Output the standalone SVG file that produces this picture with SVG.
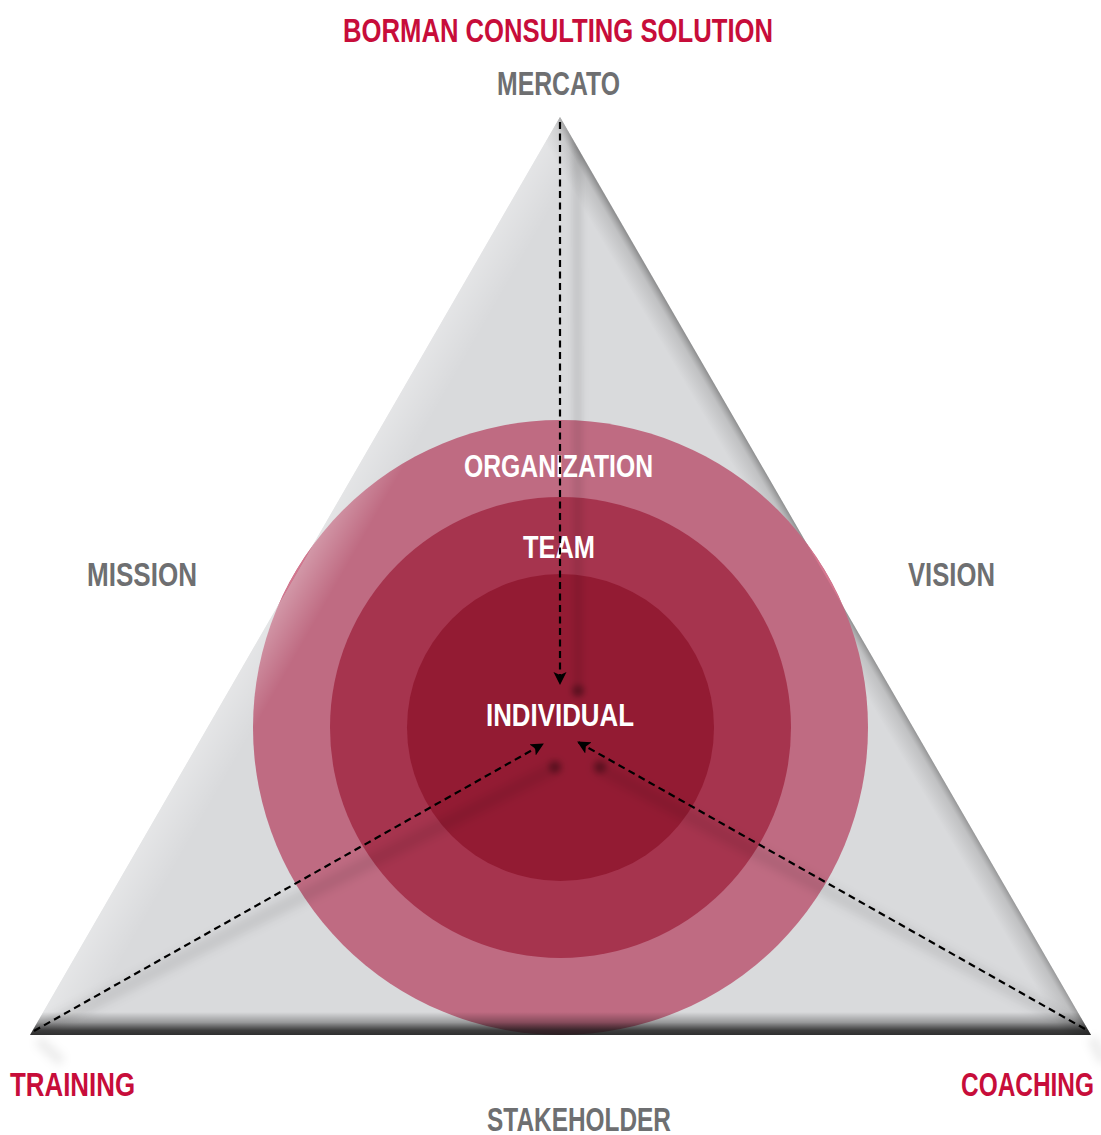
<svg xmlns="http://www.w3.org/2000/svg" width="1101" height="1135" viewBox="0 0 1101 1135">
  <style>
    .lbl { font-family: "Liberation Sans Narrow", "Liberation Sans", Arial, sans-serif; font-weight: bold; font-size: 33px; }
    .red { fill: #C70D3A; }
    .gray { fill: #6E6F71; }
    .white { fill: #FFFFFF; font-size: 31px; }
    .dash { fill: none; stroke: #000; stroke-width: 2.2; stroke-dasharray: 7 4.5; }
    .ridge { fill: none; stroke: #000; stroke-linecap: round; }
  </style>
  <defs>
    <clipPath id="triClip">
      <polygon points="560,117 30,1035 1091,1035"/>
    </clipPath>
    <mask id="outsideTri" maskUnits="userSpaceOnUse" x="0" y="0" width="1101" height="1135">
      <rect x="0" y="0" width="1101" height="1135" fill="#fff"/>
      <polygon points="560,117 30,1035 1091,1035" fill="#000"/>
    </mask>
    <linearGradient id="leftLight" gradientUnits="userSpaceOnUse" x1="295" y1="576" x2="330" y2="596">
      <stop offset="0" stop-color="#fff" stop-opacity="0.3"/>
      <stop offset="1" stop-color="#fff" stop-opacity="0"/>
    </linearGradient>
    <linearGradient id="rightDark" gradientUnits="userSpaceOnUse" x1="825.5" y1="576" x2="804" y2="588.5">
      <stop offset="0" stop-color="#555" stop-opacity="0.55"/>
      <stop offset="0.3" stop-color="#777" stop-opacity="0.25"/>
      <stop offset="1" stop-color="#777" stop-opacity="0"/>
    </linearGradient>
    <linearGradient id="bottomBand" gradientUnits="userSpaceOnUse" x1="0" y1="1012" x2="0" y2="1035">
      <stop offset="0" stop-color="#000" stop-opacity="0"/>
      <stop offset="0.45" stop-color="#000" stop-opacity="0.3"/>
      <stop offset="0.8" stop-color="#111" stop-opacity="0.78"/>
      <stop offset="1" stop-color="#111" stop-opacity="0.85"/>
    </linearGradient>
    <filter id="blur3" filterUnits="userSpaceOnUse" x="0" y="0" width="1101" height="1135">
      <feGaussianBlur stdDeviation="3"/>
    </filter>
    <filter id="blur5" filterUnits="userSpaceOnUse" x="0" y="0" width="1101" height="1135">
      <feGaussianBlur stdDeviation="5"/>
    </filter>
    <marker id="arrow" markerUnits="userSpaceOnUse" markerWidth="14" markerHeight="14" refX="12" refY="6.5" orient="auto">
      <path d="M0,0 L13,6.5 L0,13 L3,6.5 z" fill="#000"/>
    </marker>
  </defs>

  <rect x="0" y="0" width="1101" height="1135" fill="#FFFFFF"/>

  <!-- Pyramid base -->
  <g id="pyramid">
    <line x1="38" y1="1040" x2="62" y2="1062" stroke="#000" stroke-opacity="0.08" stroke-width="10" filter="url(#blur5)"/>
    <line x1="1092" y1="1038" x2="1104" y2="1062" stroke="#000" stroke-opacity="0.08" stroke-width="10" filter="url(#blur5)"/>
    <polygon points="560,117 30,1035 1091,1035" fill="#D9DADC"/>
    <polygon points="560,117 30,1035 1091,1035" fill="url(#rightDark)"/>
  </g>

  <!-- Circles -->
  <g id="organization">
    <circle cx="560.5" cy="727.5" r="307.5" fill="#BF6B82"/>
    <circle cx="560.5" cy="727.5" r="307.5" fill="#D4778F" mask="url(#outsideTri)"/>
  </g>
  <g id="team">
    <circle cx="560.5" cy="727.5" r="230.5" fill="#A6344E"/>
  </g>
  <g id="individual">
    <circle cx="560.5" cy="727.5" r="153.5" fill="#931B33"/>
  </g>

  <!-- Pyramid shading -->
  <g id="shading" clip-path="url(#triClip)">
    <polygon points="560,117 30,1035 1091,1035" fill="url(#leftLight)"/>
    <line class="ridge" x1="577" y1="118" x2="578" y2="690" stroke-opacity="0.09" stroke-width="10" filter="url(#blur3)"/>
    <line class="ridge" x1="40" y1="1030" x2="554" y2="768" stroke-opacity="0.09" stroke-width="14" filter="url(#blur5)"/>
    <line class="ridge" x1="600" y1="768" x2="1085" y2="1030" stroke-opacity="0.09" stroke-width="14" filter="url(#blur5)"/>
    <circle cx="578" cy="691" r="6" fill="#000" fill-opacity="0.35" filter="url(#blur3)"/>
    <circle cx="555" cy="767" r="6" fill="#000" fill-opacity="0.35" filter="url(#blur3)"/>
    <circle cx="600" cy="767" r="6" fill="#000" fill-opacity="0.35" filter="url(#blur3)"/>
    <rect x="0" y="1010" width="1101" height="30" fill="url(#bottomBand)"/>
  </g>

  <!-- Labels -->
  <g id="title"><text class="lbl red" x="343" y="42" textLength="430" lengthAdjust="spacingAndGlyphs">BORMAN CONSULTING SOLUTION</text></g>
  <g id="mercato"><text class="lbl gray" x="497" y="95" textLength="123" lengthAdjust="spacingAndGlyphs">MERCATO</text></g>
  <g id="mission"><text class="lbl gray" x="87" y="586" textLength="110" lengthAdjust="spacingAndGlyphs">MISSION</text></g>
  <g id="vision"><text class="lbl gray" x="908" y="586" textLength="87" lengthAdjust="spacingAndGlyphs">VISION</text></g>
  <g id="training"><text class="lbl red" x="10" y="1096" textLength="125" lengthAdjust="spacingAndGlyphs">TRAINING</text></g>
  <g id="coaching"><text class="lbl red" x="961" y="1096" textLength="133" lengthAdjust="spacingAndGlyphs">COACHING</text></g>
  <g id="stakeholder"><text class="lbl gray" x="487" y="1131" textLength="184" lengthAdjust="spacingAndGlyphs">STAKEHOLDER</text></g>
  <g id="organization-label"><text class="lbl white" x="464" y="477" textLength="189" lengthAdjust="spacingAndGlyphs">ORGANIZATION</text></g>
  <g id="team-label"><text class="lbl white" x="523" y="558" textLength="72" lengthAdjust="spacingAndGlyphs">TEAM</text></g>
  <g id="individual-label"><text class="lbl white" x="486" y="726" textLength="148" lengthAdjust="spacingAndGlyphs">INDIVIDUAL</text></g>

  <!-- Connectors -->
  <g id="connectors">
    <line class="dash" x1="560" y1="122" x2="560" y2="684" marker-end="url(#arrow)"/>
    <line class="dash" x1="34" y1="1031" x2="543" y2="744" marker-end="url(#arrow)"/>
    <line class="dash" x1="1085" y1="1029" x2="578" y2="742" marker-end="url(#arrow)"/>
  </g>
</svg>
